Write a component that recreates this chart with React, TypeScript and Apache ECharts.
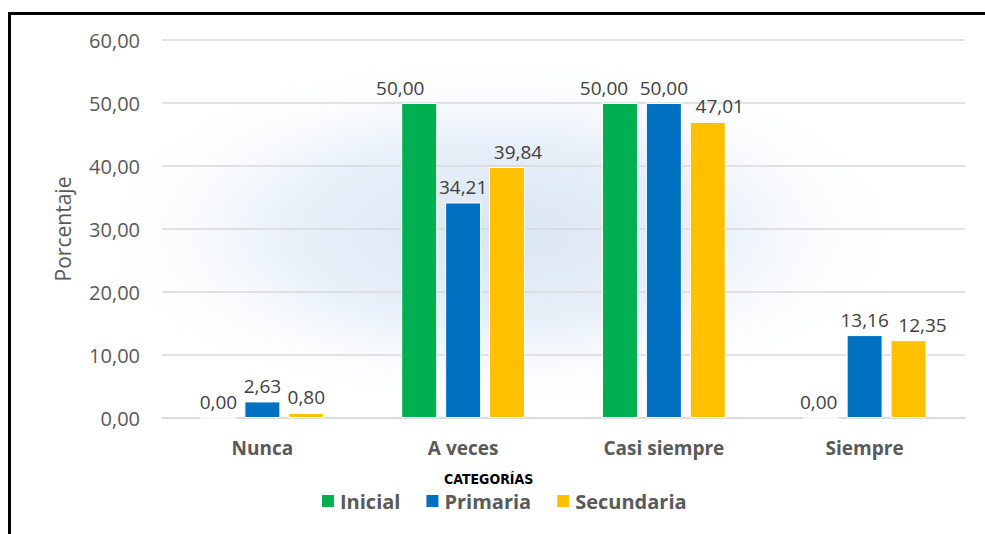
import React, { useEffect, useRef } from "react";
import * as echarts from "echarts";

const categories = ["Nunca", "A veces", "Casi siempre", "Siempre"];
const inicial = [0.0, 50.0, 50.0, 0.0];
const primaria = [2.63, 34.21, 50.0, 13.16];
const secundaria = [0.8, 39.84, 47.01, 12.35];
const seriesNames = ["Inicial", "Primaria", "Secundaria"];
const yTicks = [0, 10, 20, 30, 40, 50, 60];

// horizontal nudges for value labels so neighbours don't collide
const labelShift: number[][] = [
  [0, -19, -16, -2],
  [0, 0, 0, 0],
  [0, 11, 12, 14],
];

const colors = ["#00b050", "#0070c0", "#ffc000"];
const FONT = "'Open Sans', 'Noto Sans', sans-serif";

const fmt = (v: number) => v.toFixed(2).replace(".", ",");

export default function App() {
  const ref = useRef<HTMLDivElement>(null);

  useEffect(() => {
    if (!ref.current) return;
    const chart = echarts.init(ref.current, null, { renderer: "svg" });
    const data = [inicial, primaria, secundaria];

    const series = data.map((vals, si) => ({
      name: seriesNames[si],
      type: "bar",
      barWidth: 36,
      barGap: "22%",
      itemStyle: { color: colors[si], borderColor: "#ffffff", borderWidth: 1 },
      data: vals.map((v, ci) => ({
        value: v,
        label: { offset: [labelShift[si][ci], 0] },
      })),
      label: {
        show: true,
        position: "top",
        distance: 6,
        formatter: (p: any) => fmt(p.value),
        color: "#404040",
        fontFamily: FONT,
        fontSize: 19,
      },
      z: 3,
    }));

    chart.setOption({
      animation: false,
      backgroundColor: "#ffffff",
      grid: { left: 162, right: 20, top: 40, bottom: 116 },
      graphic: [
        {
          type: "ellipse",
          z: -10,
          silent: true,
          shape: { cx: 500, cy: 232, rx: 420, ry: 185 },
          style: {
            fill: new echarts.graphic.RadialGradient(0.5, 0.5, 0.5, [
              { offset: 0, color: "#dae6f3" },
              { offset: 0.5, color: "#e8f0f9" },
              { offset: 1, color: "rgba(255,255,255,0)" },
            ]),
          },
        },
        {
          type: "polyline",
          silent: true,
          z: 10,
          shape: { points: [[9.5, 540], [9.5, 13.5], [990, 13.5]] },
          style: { stroke: "#000000", lineWidth: 3, fill: "none" },
        },
        {
          type: "text",
          left: 444,
          top: 472,
          style: {
            text: "CATEGORÍAS",
            fontFamily: "'Liberation Sans Narrow', 'DejaVu Sans Condensed', Arial, sans-serif",
            fontWeight: "bold",
            fontSize: 14,
            fill: "#000000",
          },
        },
      ],
      legend: {
        data: seriesNames,
        bottom: 18,
        left: 315,
        icon: "rect",
        itemWidth: 14,
        itemHeight: 14,
        itemGap: 24,
        textStyle: {
          color: "#595959",
          fontFamily: FONT,
          fontWeight: "bold",
          fontSize: 20,
        },
      },
      xAxis: {
        type: "category",
        data: categories,
        axisTick: { show: false },
        axisLine: { lineStyle: { color: "#d9d9d9", width: 1.5 } },
        axisLabel: {
          color: "#595959",
          fontFamily: FONT,
          fontWeight: "bold",
          fontSize: 19,
          margin: 20,
        },
      },
      yAxis: {
        type: "value",
        min: yTicks[0],
        max: yTicks[yTicks.length - 1],
        interval: 10,
        name: "Porcentaje",
        nameLocation: "middle",
        nameGap: 89,
        nameTextStyle: { color: "#595959", fontFamily: FONT, fontSize: 21 },
        axisLine: { show: false },
        axisTick: { show: false },
        splitLine: { lineStyle: { color: "#d9d9d9", width: 1.5 } },
        axisLabel: {
          color: "#595959",
          fontFamily: FONT,
          fontSize: 20,
          margin: 22,
          formatter: (v: number) => fmt(v),
        },
      },
      series,
    });

    return () => chart.dispose();
  }, []);

  return (
    <div
      ref={ref}
      style={{ position: "absolute", left: 0, top: 0, width: 985, height: 534 }}
    />
  );
}
